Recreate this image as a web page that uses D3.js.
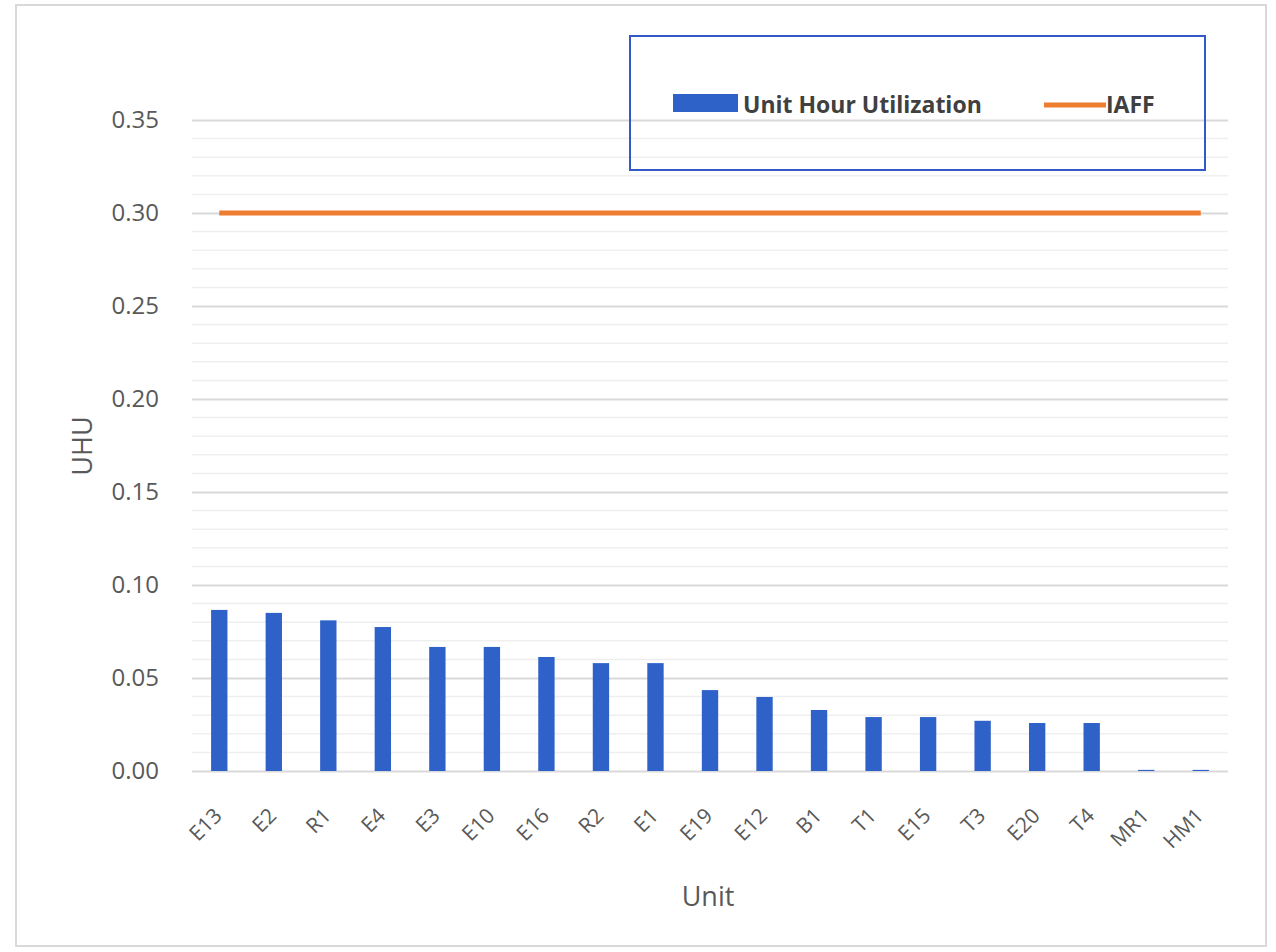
<!DOCTYPE html>
<html>
<head>
<meta charset="utf-8">
<script src="https://cdn.jsdelivr.net/npm/d3@7"></script>
<style>
  html, body { margin: 0; padding: 0; background: #ffffff; }
  svg { display: block; }
</style>
</head>
<body>
<svg id="chart" width="1276" height="952"></svg>
<script>
// ---- data ----
const units = ["E13","E2","R1","E4","E3","E10","E16","R2","E1","E19","E12","B1","T1","E15","T3","E20","T4","MR1","HM1"];
const uhuValues = [0.0866,0.085,0.081,0.0774,0.0667,0.0667,0.0613,0.058,0.058,0.0435,0.0398,0.0328,0.029,0.029,0.027,0.0258,0.0258,0.0006,0.0006];
const iaffValues = units.map(() => 0.30);
const yTicks = [0.00,0.05,0.10,0.15,0.20,0.25,0.30,0.35];
const seriesNames = ["Unit Hour Utilization","IAFF"];

// ---- layout ----
(function(){
const svg = d3.select("#chart");
const font = "'Open Sans', 'Liberation Sans', sans-serif";
const pLeft = 192, pRight = 1228, pTop = 120, pBottom = 771;

svg.append("rect").attr("x",16).attr("y",5).attr("width",1250).attr("height",941)
  .attr("fill","#ffffff").attr("stroke","#d9d9d9").attr("stroke-width",2);

const x = d3.scaleBand().domain(units).range([pLeft, pRight]).paddingInner(0.7).paddingOuter(0.35);
const y = d3.scaleLinear().domain([0, 0.35]).range([pBottom, pTop]);

// minor gridlines
const minor = d3.range(1, 35).filter(v => v % 5 !== 0).map(v => v / 100);
svg.append("g").selectAll("line").data(minor).join("line")
  .attr("x1", pLeft).attr("x2", pRight)
  .attr("y1", d => y(d)).attr("y2", d => y(d))
  .attr("stroke", "#efefef").attr("stroke-width", 1.5);

// y axis with major gridlines
const yAxis = d3.axisLeft(y).tickValues(yTicks).tickFormat(d3.format(".2f")).tickSize(-(pRight-pLeft)).tickPadding(33);
const gy = svg.append("g").attr("transform", `translate(${pLeft},0)`).call(yAxis);
gy.select(".domain").remove();
gy.selectAll(".tick line").attr("stroke", "#d9d9d9").attr("stroke-width", 2);
gy.selectAll(".tick text").attr("font-family", font).attr("font-size", 24).attr("fill", "#595959");

// bars
svg.append("g").selectAll("rect").data(units).join("rect")
  .attr("x", d => x(d))
  .attr("width", x.bandwidth())
  .attr("y", (d,i) => y(uhuValues[i]))
  .attr("height", (d,i) => y(0) - y(uhuValues[i]))
  .attr("fill", "#2f62c9");

// IAFF line
const line = d3.line().x((d,i) => x(units[i]) + x.bandwidth()/2).y(d => y(d));
svg.append("path").datum(iaffValues).attr("d", line)
  .attr("fill","none").attr("stroke","#ed7d31").attr("stroke-width",5);

// x axis labels
const xAxis = d3.axisBottom(x).tickSize(0).tickPadding(0);
const gx = svg.append("g").attr("transform", `translate(0,${pBottom})`).call(xAxis);
gx.select(".domain").remove();
gx.selectAll(".tick text")
  .attr("font-family", font).attr("font-size", 21).attr("fill", "#595959")
  .attr("text-anchor", "end").attr("dy", 0).attr("y", 0)
  .attr("transform", "translate(4,46) rotate(-45)");

// axis titles
svg.append("text").attr("x", 708).attr("y", 906).attr("text-anchor","middle")
  .attr("font-family", font).attr("font-size", 27).attr("fill","#595959").text("Unit");
svg.append("text").attr("transform","translate(92,446) rotate(-90)").attr("text-anchor","middle")
  .attr("font-family", font).attr("font-size", 27).attr("fill","#595959").text("UHU");

// legend
const lg = svg.append("g");
lg.append("rect").attr("x",630).attr("y",36).attr("width",575).attr("height",134)
  .attr("fill","none").attr("stroke","#3358c8").attr("stroke-width",2);
lg.append("rect").attr("x",673).attr("y",94).attr("width",65).attr("height",18).attr("fill","#2f62c9");
lg.append("text").attr("x",743).attr("y",113).attr("font-family",font).attr("font-size",23)
  .attr("font-weight","bold").attr("fill","#404040").text(seriesNames[0]);
lg.append("line").attr("x1",1044).attr("x2",1106).attr("y1",105).attr("y2",105)
  .attr("stroke","#ed7d31").attr("stroke-width",5);
lg.append("text").attr("x",1106).attr("y",113).attr("font-family",font).attr("font-size",23)
  .attr("font-weight","bold").attr("fill","#404040").text(seriesNames[1]);
})();
</script>
</body>
</html>
